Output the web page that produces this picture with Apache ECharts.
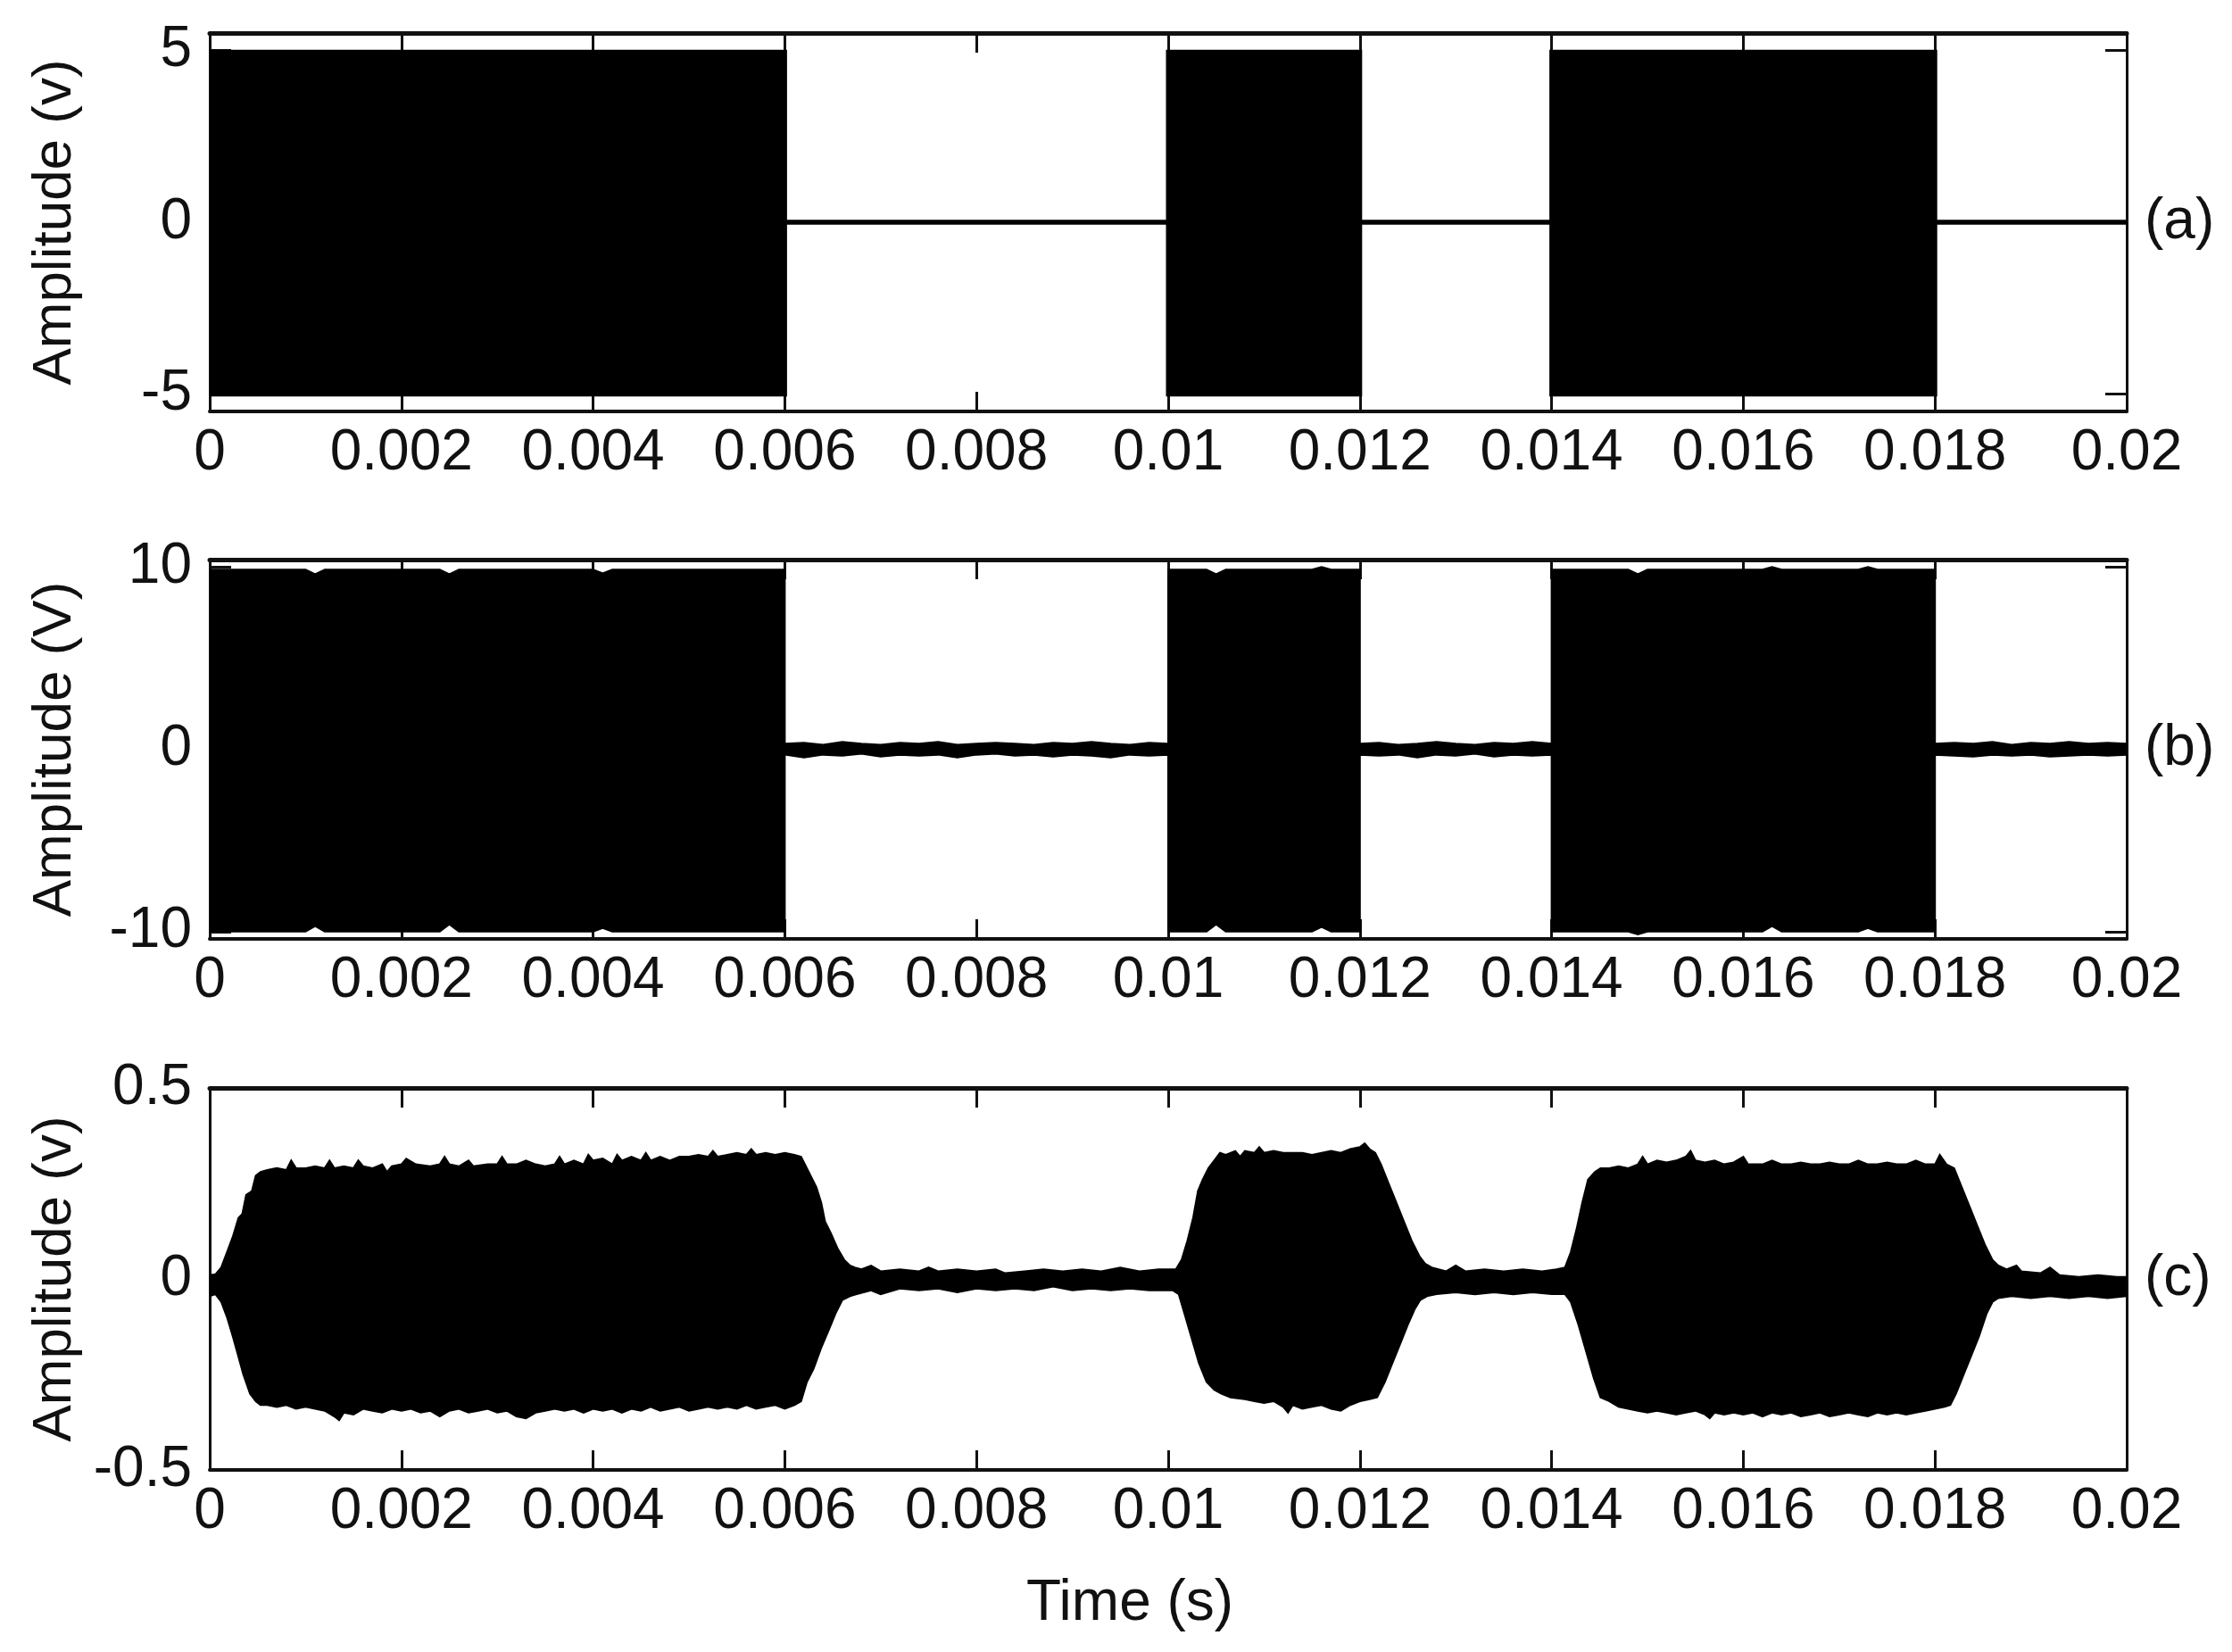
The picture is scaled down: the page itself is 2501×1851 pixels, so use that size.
<!DOCTYPE html>
<html>
<head>
<meta charset="utf-8">
<script src="https://cdn.jsdelivr.net/npm/echarts@6/dist/echarts.min.js"></script>
<style>
  html, body { margin: 0; padding: 0; background: #fff; }
  #chart { width: 2501px; height: 1851px; }
</style>
</head>
<body>
<div id="chart"></div>
<script>
// ---------------- data ----------------
// Panel (a): envelope of the transmitted burst signal (V)
const timeA  = [0, 0.006, 0.006, 0.010, 0.010, 0.012, 0.012, 0.014, 0.014, 0.018, 0.018, 0.020];
const upperA = [4.95, 4.95, 0, 0, 4.95, 4.95, 0, 0, 4.95, 4.95, 0, 0];
const lowerA = [-5.0, -5.0, 0, 0, -5.0, -5.0, 0, 0, -5.0, -5.0, 0, 0];
const yTicksA = [-5, 0, 5];

// Panel (b): envelope of the amplified signal (V)
const timeUpB = [0, 0.0010, 0.0011, 0.0012, 0.0024, 0.0025, 0.0026, 0.0040, 0.0041, 0.0042, 0.0060,
  0.0060, 0.0062, 0.0064, 0.0066, 0.0068, 0.0070, 0.0072, 0.0074, 0.0076, 0.0078, 0.0080, 0.0082, 0.0084,
  0.0086, 0.0088, 0.0090, 0.0092, 0.0094, 0.0096, 0.0098, 0.0100,
  0.0100, 0.0104, 0.0105, 0.0106, 0.0115, 0.0116, 0.0117, 0.0120,
  0.0120, 0.0122, 0.0124, 0.0126, 0.0128, 0.0130, 0.0132, 0.0134, 0.0136, 0.0138, 0.0140,
  0.0140, 0.0148, 0.0149, 0.0150, 0.0162, 0.0163, 0.0164, 0.0172, 0.0173, 0.0174, 0.0180,
  0.0180, 0.0182, 0.0184, 0.0186, 0.0188, 0.0190, 0.0192, 0.0194, 0.0196, 0.0198, 0.0200];
const upperB = [9.85, 9.85, 9.6, 9.85, 9.85, 9.6, 9.85, 9.85, 9.65, 9.85, 9.85,
  0.3, 0.35, 0.25, 0.4, 0.3, 0.25, 0.35, 0.3, 0.4, 0.25, 0.3, 0.35, 0.3,
  0.25, 0.35, 0.3, 0.4, 0.3, 0.25, 0.35, 0.3,
  9.85, 9.85, 9.6, 9.85, 9.85, 10.0, 9.85, 9.85,
  0.3, 0.35, 0.25, 0.3, 0.4, 0.3, 0.25, 0.35, 0.3, 0.4, 0.3,
  9.85, 9.85, 9.6, 9.85, 9.85, 10.0, 9.85, 9.85, 10.0, 9.85, 9.85,
  0.3, 0.35, 0.3, 0.4, 0.25, 0.35, 0.3, 0.4, 0.3, 0.35, 0.3];
const timeLoB = [0, 0.0010, 0.0011, 0.0012, 0.0024, 0.0025, 0.0026, 0.0040, 0.0041, 0.0042, 0.0060,
  0.0060, 0.0062, 0.0064, 0.0066, 0.0068, 0.0070, 0.0072, 0.0074, 0.0076, 0.0078, 0.0080, 0.0082, 0.0084,
  0.0086, 0.0088, 0.0090, 0.0092, 0.0094, 0.0096, 0.0098, 0.0100,
  0.0100, 0.0104, 0.0105, 0.0106, 0.0115, 0.0116, 0.0117, 0.0120,
  0.0120, 0.0122, 0.0124, 0.0126, 0.0128, 0.0130, 0.0132, 0.0134, 0.0136, 0.0138, 0.0140,
  0.0140, 0.0148, 0.0149, 0.0150, 0.0162, 0.0163, 0.0164, 0.0172, 0.0173, 0.0174, 0.0180,
  0.0180, 0.0182, 0.0184, 0.0186, 0.0188, 0.0190, 0.0192, 0.0194, 0.0196, 0.0198, 0.0200];
const lowerB = [-10.0, -10.0, -9.7, -10.0, -10.0, -9.6, -10.0, -10.0, -9.8, -10.0, -10.0,
  -0.3, -0.45, -0.3, -0.35, -0.25, -0.4, -0.3, -0.35, -0.3, -0.45, -0.3, -0.25, -0.35,
  -0.3, -0.4, -0.3, -0.35, -0.45, -0.3, -0.35, -0.3,
  -10.0, -10.0, -9.6, -10.0, -10.0, -9.75, -10.0, -10.0,
  -0.3, -0.35, -0.3, -0.45, -0.3, -0.35, -0.25, -0.4, -0.3, -0.35, -0.3,
  -10.0, -10.0, -10.15, -10.0, -10.0, -9.7, -10.0, -10.0, -9.8, -10.0, -10.0,
  -0.3, -0.35, -0.4, -0.3, -0.35, -0.3, -0.4, -0.35, -0.3, -0.35, -0.3];
const yTicksB = [-10, 0, 10];

// Panel (c): envelope of the received signal (V)
const timeUpC = [0.00000, 0.00006, 0.00012, 0.00018, 0.00024, 0.00030, 0.00034, 0.00038, 0.00044, 0.00048,
  0.00053, 0.00060, 0.00070, 0.00080, 0.00085, 0.00090, 0.00100, 0.00110, 0.00120, 0.00125,
  0.00130, 0.00140, 0.00150, 0.00155, 0.00160, 0.00170, 0.00180, 0.00185, 0.00190, 0.00200,
  0.00205, 0.00215, 0.00230, 0.00240, 0.00245, 0.00250, 0.00260, 0.00270, 0.00275, 0.00290,
  0.00300, 0.00305, 0.00310, 0.00320, 0.00330, 0.00340, 0.00350, 0.00360, 0.00365, 0.00370,
  0.00380, 0.00390, 0.00395, 0.00400, 0.00410, 0.00420, 0.00425, 0.00430, 0.00440, 0.00450,
  0.00455, 0.00460, 0.00470, 0.00480, 0.00490, 0.00500, 0.00510, 0.00520, 0.00525, 0.00530,
  0.00540, 0.00550, 0.00560, 0.00565, 0.00570, 0.00580, 0.00590, 0.00600, 0.00610, 0.00617,
  0.00625, 0.00633, 0.00638, 0.00642, 0.00648, 0.00655, 0.00662, 0.00668, 0.00673,
  0.00680, 0.00690, 0.00700, 0.00720, 0.00740, 0.00750, 0.00760, 0.00780, 0.00800, 0.00820,
  0.00830, 0.00850, 0.00870, 0.00890, 0.00910, 0.00930, 0.00950, 0.00970, 0.00990, 0.01008,
  0.01014, 0.01020, 0.01026, 0.01031, 0.01036, 0.01042, 0.01048, 0.01054, 0.01060, 0.01070,
  0.01075, 0.01080, 0.01090, 0.01095, 0.01100, 0.01110, 0.01120, 0.01130, 0.01140, 0.01150,
  0.01160, 0.01170, 0.01180, 0.01190, 0.01200, 0.01205, 0.01210, 0.01216, 0.01222, 0.01230,
  0.01238, 0.01246, 0.01254, 0.01262, 0.01268, 0.01275,
  0.01290, 0.01300, 0.01310, 0.01330, 0.01350, 0.01370, 0.01390, 0.01405, 0.01414, 0.01420,
  0.01426, 0.01432, 0.01438, 0.01445, 0.01451, 0.01460, 0.01470, 0.01480, 0.01490, 0.01495,
  0.01500, 0.01510, 0.01520, 0.01530, 0.01540, 0.01545, 0.01550, 0.01560, 0.01570, 0.01580,
  0.01590, 0.01600, 0.01605, 0.01610, 0.01620, 0.01630, 0.01640, 0.01650, 0.01660, 0.01670,
  0.01680, 0.01690, 0.01700, 0.01710, 0.01720, 0.01730, 0.01740, 0.01750, 0.01760, 0.01770,
  0.01780, 0.01790, 0.01800, 0.01805, 0.01812, 0.01820, 0.01828, 0.01836, 0.01844, 0.01852,
  0.01860, 0.01866, 0.01875, 0.01885, 0.01890, 0.01910, 0.01920, 0.01930, 0.01950, 0.01970,
  0.01990, 0.02000];
const upperC = [0.010, 0.012, 0.03, 0.07, 0.11, 0.16, 0.17, 0.22, 0.23, 0.27,
  0.28, 0.285, 0.29, 0.285, 0.31, 0.29, 0.29, 0.295, 0.29, 0.31,
  0.29, 0.295, 0.29, 0.31, 0.295, 0.29, 0.30, 0.28, 0.295, 0.30,
  0.315, 0.30, 0.295, 0.30, 0.32, 0.30, 0.295, 0.31, 0.295, 0.30,
  0.30, 0.32, 0.30, 0.30, 0.31, 0.30, 0.295, 0.30, 0.32, 0.30,
  0.31, 0.30, 0.325, 0.31, 0.315, 0.30, 0.325, 0.31, 0.32, 0.31,
  0.33, 0.31, 0.32, 0.31, 0.32, 0.32, 0.325, 0.32, 0.335, 0.32,
  0.325, 0.33, 0.325, 0.34, 0.325, 0.33, 0.325, 0.33, 0.325, 0.32,
  0.28, 0.24, 0.20, 0.15, 0.12, 0.08, 0.05, 0.035, 0.03,
  0.025, 0.035, 0.02, 0.025, 0.02, 0.03, 0.02, 0.025, 0.02, 0.025,
  0.015, 0.02, 0.025, 0.02, 0.025, 0.02, 0.03, 0.02, 0.025, 0.025,
  0.05, 0.10, 0.16, 0.23, 0.26, 0.29, 0.31, 0.33, 0.325, 0.335,
  0.32, 0.335, 0.33, 0.345, 0.33, 0.335, 0.33, 0.33, 0.33, 0.325,
  0.33, 0.335, 0.33, 0.34, 0.345, 0.355, 0.34, 0.33, 0.30, 0.25,
  0.20, 0.15, 0.10, 0.06, 0.04, 0.03,
  0.02, 0.035, 0.02, 0.025, 0.02, 0.025, 0.02, 0.025, 0.03, 0.07,
  0.13, 0.20, 0.26, 0.28, 0.29, 0.29, 0.295, 0.29, 0.30, 0.32,
  0.30, 0.31, 0.305, 0.31, 0.32, 0.335, 0.31, 0.305, 0.31, 0.30,
  0.305, 0.32, 0.30, 0.30, 0.30, 0.31, 0.30, 0.30, 0.305, 0.30,
  0.30, 0.305, 0.30, 0.30, 0.31, 0.30, 0.30, 0.305, 0.30, 0.30,
  0.31, 0.30, 0.30, 0.325, 0.30, 0.29, 0.24, 0.19, 0.14, 0.09,
  0.05, 0.035, 0.025, 0.035, 0.02, 0.015, 0.03, 0.01, 0.005, 0.01,
  0.005, 0.005];
const timeLoC = [0.00000, 0.00006, 0.00012, 0.00018, 0.00024, 0.00029, 0.00035, 0.00042, 0.00048, 0.00053,
  0.00060, 0.00070, 0.00080, 0.00090, 0.00100, 0.00110, 0.00120, 0.00130, 0.00135, 0.00140,
  0.00150, 0.00160, 0.00170, 0.00180, 0.00190, 0.00200, 0.00210, 0.00220, 0.00230, 0.00240,
  0.00250, 0.00260, 0.00270, 0.00280, 0.00290, 0.00300, 0.00310, 0.00320, 0.00330, 0.00340,
  0.00350, 0.00360, 0.00370, 0.00380, 0.00390, 0.00400, 0.00410, 0.00420, 0.00430, 0.00440,
  0.00450, 0.00460, 0.00470, 0.00480, 0.00490, 0.00500, 0.00510, 0.00520, 0.00530, 0.00540,
  0.00550, 0.00560, 0.00570, 0.00580, 0.00590, 0.00600, 0.00610, 0.00617, 0.00623, 0.00630,
  0.00638, 0.00646, 0.00653, 0.00660, 0.00668, 0.00675,
  0.00690, 0.00700, 0.00720, 0.00740, 0.00760, 0.00780, 0.00800, 0.00820, 0.00840, 0.00860,
  0.00880, 0.00900, 0.00920, 0.00940, 0.00960, 0.00980, 0.01005, 0.01011, 0.01018, 0.01025,
  0.01032, 0.01040, 0.01048, 0.01055, 0.01065, 0.01080, 0.01090, 0.01100, 0.01110, 0.01120,
  0.01125, 0.01130, 0.01140, 0.01150, 0.01160, 0.01170, 0.01180, 0.01190, 0.01200, 0.01210,
  0.01218, 0.01226, 0.01234, 0.01242, 0.01250, 0.01257, 0.01263, 0.01270,
  0.01280, 0.01300, 0.01320, 0.01340, 0.01360, 0.01380, 0.01400, 0.01414, 0.01420, 0.01428,
  0.01436, 0.01444, 0.01451, 0.01460, 0.01470, 0.01480, 0.01490, 0.01500, 0.01510, 0.01520,
  0.01530, 0.01540, 0.01550, 0.01560, 0.01565, 0.01570, 0.01580, 0.01590, 0.01600, 0.01610,
  0.01620, 0.01630, 0.01640, 0.01650, 0.01660, 0.01670, 0.01680, 0.01690, 0.01700, 0.01710,
  0.01720, 0.01730, 0.01740, 0.01750, 0.01760, 0.01770, 0.01780, 0.01790, 0.01800, 0.01810,
  0.01816, 0.01822, 0.01830, 0.01838, 0.01846, 0.01854, 0.01860, 0.01866,
  0.01880, 0.01900, 0.01920, 0.01940, 0.01960, 0.01980, 0.02000];
const lowerC = [-0.045, -0.04, -0.06, -0.10, -0.15, -0.195, -0.25, -0.30, -0.32, -0.33,
  -0.33, -0.335, -0.33, -0.34, -0.335, -0.34, -0.345, -0.36, -0.37, -0.35,
  -0.355, -0.34, -0.345, -0.35, -0.34, -0.345, -0.34, -0.35, -0.345, -0.36,
  -0.345, -0.34, -0.35, -0.345, -0.34, -0.35, -0.345, -0.36, -0.365, -0.35,
  -0.345, -0.34, -0.345, -0.34, -0.35, -0.34, -0.345, -0.34, -0.35, -0.34,
  -0.345, -0.335, -0.345, -0.34, -0.335, -0.345, -0.34, -0.335, -0.34, -0.335,
  -0.34, -0.33, -0.34, -0.335, -0.33, -0.34, -0.33, -0.32, -0.27, -0.235,
  -0.18, -0.133, -0.09, -0.055, -0.045, -0.04,
  -0.03, -0.04, -0.025, -0.03, -0.025, -0.035, -0.025, -0.03, -0.025, -0.03,
  -0.02, -0.03, -0.025, -0.03, -0.025, -0.03, -0.03, -0.04, -0.10, -0.16,
  -0.22, -0.27, -0.29, -0.30, -0.31, -0.315, -0.32, -0.325, -0.32, -0.335,
  -0.35, -0.33, -0.34, -0.335, -0.33, -0.34, -0.345, -0.33, -0.32, -0.315,
  -0.31, -0.27, -0.22, -0.17, -0.12, -0.08, -0.055, -0.045,
  -0.04, -0.035, -0.04, -0.035, -0.04, -0.035, -0.04, -0.04, -0.06, -0.12,
  -0.19, -0.26, -0.31, -0.32, -0.335, -0.34, -0.345, -0.35, -0.345, -0.35,
  -0.355, -0.35, -0.345, -0.355, -0.365, -0.35, -0.355, -0.35, -0.355, -0.35,
  -0.36, -0.35, -0.355, -0.35, -0.36, -0.355, -0.35, -0.36, -0.355, -0.35,
  -0.355, -0.36, -0.35, -0.355, -0.35, -0.355, -0.35, -0.345, -0.34, -0.335,
  -0.33, -0.30, -0.25, -0.20, -0.15, -0.09, -0.06, -0.05,
  -0.045, -0.05, -0.045, -0.05, -0.045, -0.05, -0.045];
const yTicksC = [-0.5, 0, 0.5];

const panelLabels = ['(a)', '(b)', '(c)'];
const yNames = ['Amplitude (v)', 'Amplitude (V)', 'Amplitude (v)'];
const xName = 'Time (s)';

// ---------------- chart ----------------
const FONT = "'Liberation Sans', Arial, sans-serif";
const INK = '#111';
const FS = 64;

const grids = [
  { left: 235, width: 2148, top: 37, height: 424 },
  { left: 235, width: 2148, top: 627, height: 425 },
  { left: 235, width: 2148, top: 1219, height: 428 }
];
const yRanges = [[-5.5, 5.5], [-10.4, 10.4], [-0.5, 0.5]];
const yTicks = [yTicksA, yTicksB, yTicksC];
// small overlap of the lower fill above zero so the two fills join without a seam
const seamOverlap = [0.05, 0.1, 0.004];

const xAxes = [], yAxes = [], series = [];
grids.forEach((g, i) => {
  xAxes.push({
    type: 'value', gridIndex: i, min: 0, max: 0.02, interval: 0.002, position: 'bottom',
    axisLine: { onZero: false, lineStyle: { color: INK, width: 4 } },
    axisTick: { inside: true, length: 22, lineStyle: { color: INK, width: 3 } },
    axisLabel: { color: INK, fontSize: FS, fontFamily: FONT, margin: 15,
      formatter: v => String(+v.toFixed(4)) },
    splitLine: { show: false },
    name: i === 2 ? xName : '', nameLocation: 'middle', nameGap: 118,
    nameTextStyle: { color: INK, fontSize: FS, fontFamily: FONT, padding: [0, 86, 0, 0] }
  });
  xAxes.push({
    type: 'value', gridIndex: i, min: 0, max: 0.02, interval: 0.002, position: 'top',
    axisLine: { onZero: false, lineStyle: { color: INK, width: 5 } },
    axisTick: { inside: true, length: 22, lineStyle: { color: INK, width: 3 } },
    axisLabel: { show: false }, splitLine: { show: false }
  });
  const [ymin, ymax] = yRanges[i];
  yAxes.push({
    type: 'value', gridIndex: i, min: ymin, max: ymax, position: 'left',
    axisLine: { show: true, onZero: false, lineStyle: { color: INK, width: 3 } },
    axisTick: { show: true, inside: true, length: 24, customValues: yTicks[i], lineStyle: { color: INK, width: 3 } },
    axisLabel: { color: INK, fontSize: FS, fontFamily: FONT, margin: 20, customValues: yTicks[i] },
    splitLine: { show: false },
    name: yNames[i], nameLocation: 'middle', nameGap: 142,
    nameTextStyle: { color: INK, fontSize: 62, fontFamily: FONT }
  });
  yAxes.push({
    type: 'value', gridIndex: i, min: ymin, max: ymax, position: 'right',
    axisLine: { show: true, onZero: false, lineStyle: { color: INK, width: 3 } },
    axisTick: { show: true, inside: true, length: 24, customValues: yTicks[i], lineStyle: { color: INK, width: 3 } },
    axisLabel: { show: false }, splitLine: { show: false },
    name: panelLabels[i], nameLocation: 'middle', nameGap: 20, nameRotate: 0,
    nameTextStyle: { color: INK, fontSize: FS, fontFamily: FONT, align: 'left', verticalAlign: 'middle' }
  });
});

function envSeries(panel, t, vals, lw, origin) {
  return {
    type: 'line', xAxisIndex: panel * 2, yAxisIndex: panel * 2,
    data: t.map((x, k) => [x, vals[k]]),
    showSymbol: false, symbol: 'none', silent: true,
    lineStyle: { color: '#000', width: lw, join: 'miter' },
    areaStyle: { color: '#000', opacity: 1, origin: origin },
    z: 2
  };
}
series.push(envSeries(0, timeA, upperA, 5, 0));
series.push(envSeries(0, timeA, lowerA, 5, seamOverlap[0]));
series.push(envSeries(1, timeUpB, upperB, 2, 0));
series.push(envSeries(1, timeLoB, lowerB, 2, seamOverlap[1]));
series.push(envSeries(2, timeUpC, upperC, 2, 0));
series.push(envSeries(2, timeLoC, lowerC, 2, seamOverlap[2]));

const chart = echarts.init(document.getElementById('chart'), null, { renderer: 'canvas' });
chart.setOption({
  backgroundColor: '#fff',
  animation: false,
  grid: grids,
  xAxis: xAxes,
  yAxis: yAxes,
  series: series
});
</script>
</body>
</html>
